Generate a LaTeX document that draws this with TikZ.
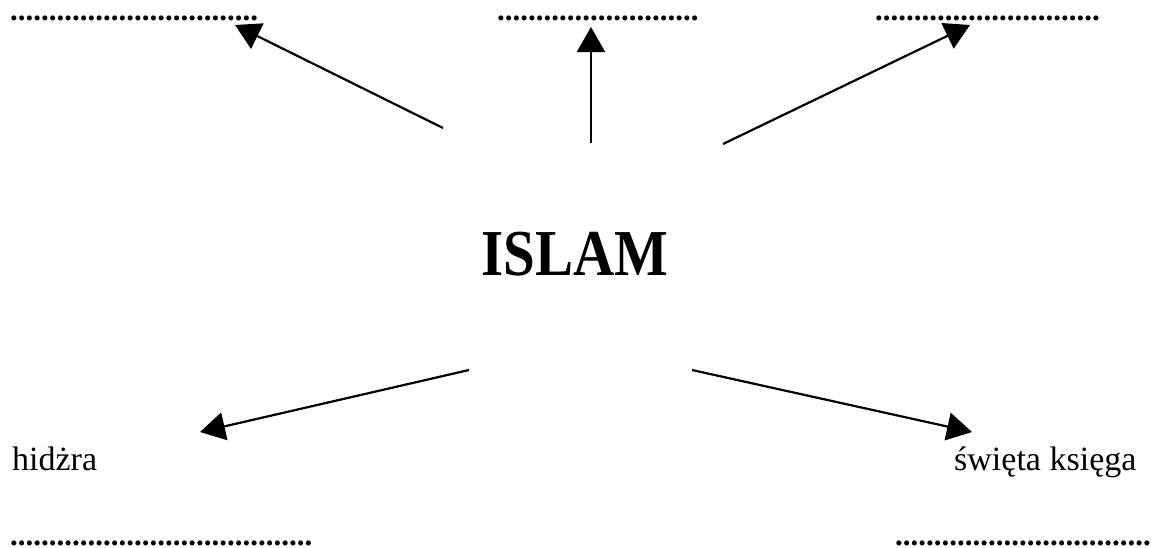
\documentclass[tikz,border=0pt]{standalone}
\usepackage{fontspec}
\setmainfont{Liberation Serif}
\usetikzlibrary{arrows.meta}
\newcommand{\gapDots}[1]{\foreach \k in {1,...,#1}{.}}

\begin{document}
\begin{tikzpicture}[x=1pt,y=-1pt,
  blank/.style={anchor=base west, inner sep=0pt, text height=5pt, text depth=0pt,
    font=\fontsize{31}{36}\selectfont\bfseries},
  word/.style={anchor=base west, inner sep=0pt, font=\fontsize{34}{40}\selectfont},
  arr/.style={-{Triangle[length=25pt,width=28pt]}, line width=2.2pt}]
\useasboundingbox (0,0) rectangle (1151,547);
% empty answer lines
\node[blank] (gapTL) at (10,20) {\gapDots{32}};
\node[blank] (gapTM) at (497,20) {\gapDots{26}};
\node[blank] (gapTR) at (875,20) {\gapDots{29}};
\node[blank] (gapBL) at (10,545) {\gapDots{39}};
\node[blank] (gapBR) at (895,545) {\gapDots{33}};
% centre and given words
\node[anchor=base, inner sep=0pt, font=\fontsize{57}{64}\selectfont\bfseries] (islam) at (575,275) {\scalebox{1}[1.15]{ISLAM}};
\node[word] (hidzra) at (12,470) {hidżra};
\node[word] (ksiega) at (954,470) {święta księga};
% arrows
\coordinate (fromTL) at (443,128);
\coordinate (tipTL) at (235,25);
\coordinate (fromTM) at (591,143);
\coordinate (tipTM) at (591,27);
\coordinate (fromTR) at (723,144);
\coordinate (tipTR) at (970,25);
\coordinate (fromBL) at (469,370);
\coordinate (tipBL) at (200,432);
\coordinate (fromBR) at (692,370);
\coordinate (tipBR) at (972,432);
\draw[arr] (fromTL) -- (tipTL);
\draw[arr] (fromTM) -- (tipTM);
\draw[arr] (fromTR) -- (tipTR);
\draw[arr] (fromBL) -- (tipBL);
\draw[arr] (fromBR) -- (tipBR);
\end{tikzpicture}
\end{document}
